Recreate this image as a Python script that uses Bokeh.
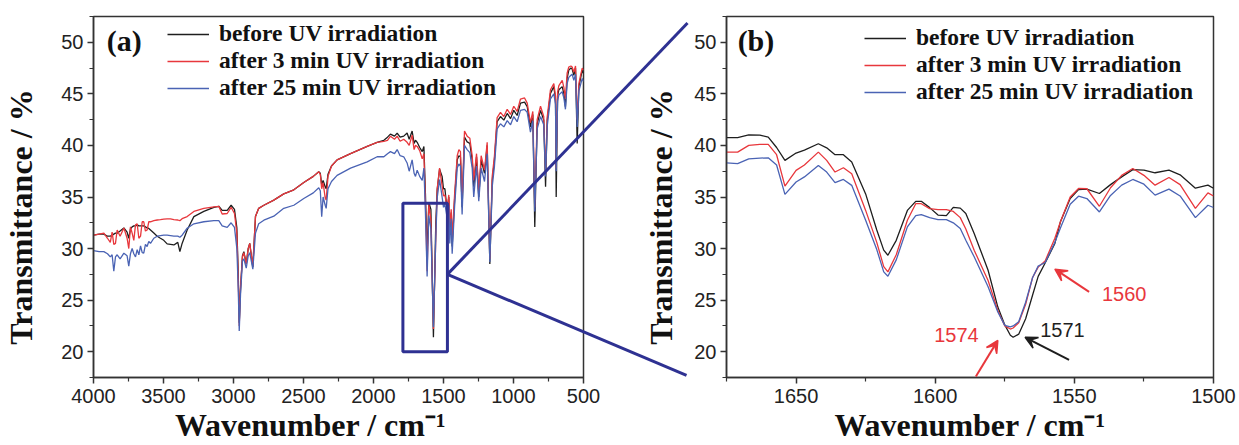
from bokeh.plotting import figure
from bokeh.layouts import row
from bokeh.models import Range1d, FixedTicker, Legend, LegendItem, Label, Arrow, VeeHead
from bokeh.embed import file_html
from bokeh.resources import INLINE

# ---------------- data ----------------
series_names = ["before UV irradiation", "after 3 min UV irradiation", "after 25 min UV irradiation"]

# panel (a): full spectrum
wn_a = [4000, 3960, 3926, 3900, 3880, 3867, 3855, 3843, 3831, 3810,
        3783, 3760, 3748, 3736, 3724, 3712, 3700, 3688, 3676, 3664,
        3652, 3641, 3629, 3617, 3605, 3593, 3569, 3545, 3522, 3498,
        3474, 3450, 3426, 3398, 3383, 3367, 3331, 3283, 3212, 3140,
        3105, 3081, 3045, 3017, 2993, 2976, 2966, 2959, 2950, 2936,
        2926, 2909, 2895, 2884, 2862, 2843, 2820, 2783, 2712, 2641,
        2569, 2498, 2430, 2391, 2380, 2370, 2360, 2345, 2338, 2325,
        2300, 2260, 2164, 2045, 1974, 1926, 1900, 1879, 1850, 1831,
        1810, 1784, 1760, 1745, 1724, 1710, 1700, 1688, 1670, 1652,
        1640, 1629, 1617, 1605, 1590, 1572, 1555, 1545, 1528, 1510,
        1500, 1490, 1474, 1462, 1455, 1445, 1438, 1421, 1402, 1390,
        1379, 1367, 1350, 1331, 1312, 1295, 1284, 1264, 1248, 1231,
        1207, 1188, 1169, 1152, 1136, 1117, 1093, 1069, 1045, 1021,
        998, 974, 950, 921, 902, 879, 862, 848, 831, 807,
        784, 771, 759, 736, 712, 700, 695, 685, 676, 652,
        640, 629, 617, 605, 590, 581, 569, 557, 545, 533,
        521, 509, 500]

before_a = [31.3, 31.4, 31.4, 31.2, 31.2, 31.3, 31.4, 31.5, 31.5, 31.7,
            32.0, 31.6, 31.0, 31.9, 32.1, 32.2, 32.2, 32.3, 32.2, 32.2,
            32.2, 32.2, 32.1, 32.0, 31.95, 31.8, 31.5, 31.2, 31.0, 30.8,
            30.45, 30.4, 30.35, 30.6, 29.7, 30.5, 31.8, 33.1, 33.6, 34.0,
            34.1, 33.7, 33.7, 34.2, 33.8, 32.0, 27.5, 22.8, 26.0, 29.3,
            29.7, 28.5, 30.0, 30.5, 28.2, 33.1, 33.9, 34.2, 34.7, 35.3,
            35.7, 36.4, 37.0, 37.45, 37.3, 36.2, 36.6, 36.0, 35.8, 37.2,
            38.0, 38.6, 39.2, 39.9, 40.3, 40.5, 40.8, 41.1, 40.9, 41.2,
            40.8, 40.9, 41.2, 40.6, 41.4, 40.2, 40.5, 40.3, 39.8, 39.4,
            39.9, 35.3, 29.4, 34.5, 33.8, 21.4, 32.5, 35.7, 37.7, 37.0,
            35.8, 35.8, 33.7, 35.0, 31.5, 33.5, 30.2, 34.7, 38.6, 39.0,
            38.9, 34.0, 40.8, 40.35, 40.2, 38.6, 36.0, 38.9, 35.0, 38.6,
            37.3, 40.0, 28.5, 36.6, 38.6, 42.3, 42.8, 42.45, 43.1, 42.6,
            43.4, 42.9, 44.1, 44.2, 43.75, 41.8, 43.0, 32.1, 42.1, 43.4,
            42.45, 36.0, 42.45, 45.05, 45.7, 44.5, 35.0, 44.8, 45.4, 45.7,
            45.0, 43.75, 46.5, 47.3, 47.5, 47.4, 46.8, 47.5, 40.2, 45.7,
            46.5, 47.3, 47.0]

after3_a = [31.3, 31.4, 31.5, 31.0, 30.6, 31.6, 30.4, 30.5, 31.8, 31.2,
            32.0, 31.0, 30.0, 32.1, 31.5, 30.8, 32.3, 32.4, 31.0, 31.2,
            32.6, 32.6, 31.7, 31.8, 32.6, 32.6, 32.7, 32.77, 32.8, 32.85,
            32.87, 32.87, 32.8, 32.77, 32.7, 32.9, 33.1, 33.6, 33.9, 34.05,
            34.1, 33.35, 33.4, 34.0, 33.4, 31.5, 27.0, 22.5, 26.3, 29.2,
            29.6, 28.5, 30.0, 30.5, 28.3, 33.1, 33.9, 34.2, 34.7, 35.3,
            35.7, 36.4, 37.0, 37.45, 37.2, 35.8, 36.4, 34.9, 34.7, 37.0,
            38.0, 38.6, 39.2, 39.9, 40.3, 40.4, 40.5, 40.9, 40.6, 40.9,
            40.4, 40.6, 40.3, 40.0, 41.0, 39.6, 40.0, 39.9, 39.5, 38.7,
            39.2, 34.5, 27.8, 34.3, 32.8, 22.2, 31.1, 35.8, 37.8, 36.1,
            35.1, 35.2, 33.9, 35.2, 32.0, 33.8, 31.0, 35.2, 39.0, 39.6,
            39.4, 34.6, 41.4, 40.9, 40.7, 39.0, 36.6, 39.2, 35.5, 39.0,
            37.6, 40.3, 29.0, 37.0, 39.0, 42.7, 43.2, 42.8, 43.5, 43.0,
            43.8, 43.3, 44.5, 44.6, 44.1, 42.2, 43.3, 34.0, 42.5, 43.8,
            42.8, 37.2, 42.8, 45.4, 46.0, 44.8, 37.8, 45.2, 45.8, 46.3,
            45.6, 44.5, 47.0, 47.6, 47.7, 47.6, 47.1, 47.7, 42.5, 46.0,
            46.8, 47.5, 47.3]

after25_a = [29.8, 29.7, 29.7, 29.5, 29.2, 29.4, 27.8, 29.2, 29.4, 29.0,
             29.55, 29.3, 28.3, 29.5, 30.0, 29.5, 29.2, 29.9, 29.4, 30.25,
             29.6, 29.55, 30.4, 30.2, 30.7, 30.5, 31.0, 31.2, 31.25, 31.3,
             31.3, 31.25, 31.2, 31.2, 31.1, 31.3, 31.97, 32.4, 32.6, 32.7,
             32.7, 32.2, 32.06, 32.5, 32.06, 30.0, 26.0, 22.0, 25.5, 28.8,
             29.0, 28.1, 29.3, 29.6, 28.0, 31.5, 32.4, 32.75, 33.14, 33.9,
             34.2, 34.85, 35.4, 35.9, 35.6, 33.1, 35.0, 34.2, 33.9, 35.8,
             36.5, 37.1, 37.8, 38.4, 38.9, 38.9, 39.2, 39.4, 39.2, 39.6,
             39.0, 38.9, 38.3, 37.5, 38.6, 37.3, 37.0, 37.6, 37.0, 36.6,
             37.8, 33.5, 27.3, 33.2, 31.9, 22.4, 31.1, 34.9, 36.7, 35.0,
             34.0, 34.3, 33.0, 34.2, 30.5, 32.9, 29.5, 34.0, 37.8, 38.2,
             38.0, 33.3, 40.0, 39.6, 39.3, 37.8, 35.0, 38.0, 34.6, 37.8,
             36.5, 39.2, 28.7, 36.0, 38.0, 41.6, 42.1, 41.8, 42.4, 42.0,
             42.8, 42.3, 43.4, 43.5, 43.2, 41.3, 42.4, 33.6, 41.6, 42.8,
             42.0, 37.0, 41.9, 44.5, 45.0, 44.0, 37.5, 44.3, 44.9, 45.2,
             44.6, 43.5, 46.0, 46.6, 46.8, 46.9, 46.3, 46.9, 41.8, 45.3,
             45.9, 46.5, 46.2]

# panel (b): enlarged 1675-1500 cm-1
wn_b = [1675, 1671, 1667, 1663, 1660, 1657, 1654, 1650, 1647, 1642,
        1639, 1636, 1633, 1630, 1625, 1621, 1618.5, 1617, 1614, 1610,
        1607, 1605, 1602, 1599, 1596, 1593.5, 1591, 1589, 1586, 1581,
        1577.5, 1575, 1573, 1572, 1570, 1567.5, 1565, 1563, 1560.5, 1557,
        1555, 1551.5, 1548.5, 1545.5, 1541, 1537, 1533, 1529, 1525, 1521,
        1516, 1512, 1506.5, 1502, 1500]

before_b = [40.75, 40.75, 41.03, 41.0, 40.8, 39.8, 38.55, 39.26, 39.55, 40.16,
            39.77, 39.1, 39.1, 38.4, 35.3, 31.8, 29.85, 29.35, 30.8, 33.7,
            34.58, 34.58, 33.97, 33.25, 33.2, 34.0, 33.92, 33.4, 31.46, 27.9,
            24.33, 22.6, 21.6, 21.4, 21.7, 23.2, 25.5, 27.3, 28.6, 30.5,
            32.6, 34.85, 35.72, 35.76, 35.34, 36.2, 36.95, 37.65, 37.6, 37.35,
            37.6, 37.15, 35.85, 36.15, 35.85]

after3_b = [39.35, 39.35, 40.0, 40.1, 40.1, 39.1, 36.05, 37.58, 38.1, 39.35,
            38.55, 37.42, 37.84, 37.26, 33.7, 30.6, 28.25, 27.74, 29.4, 32.74,
            34.35, 34.35, 33.87, 33.77, 33.77, 33.6, 33.0, 31.9, 29.84, 26.9,
            24.0, 22.5, 22.2, 22.3, 22.8, 24.6, 27.2, 28.2, 28.8, 31.0,
            32.6, 35.0, 35.83, 35.8, 34.1, 35.9, 37.1, 37.77, 37.1, 36.15,
            36.89, 36.2, 33.9, 35.4, 35.1]

after25_b = [38.3, 38.23, 38.7, 38.77, 38.8, 38.1, 35.26, 36.45, 36.95, 38.06,
             37.42, 36.39, 36.7, 36.13, 32.74, 29.9, 27.74, 27.32, 28.9, 32.1,
             33.2, 33.3, 33.0, 32.8, 32.8, 32.5, 31.94, 30.8, 29.2, 26.3,
             23.85, 22.55, 22.4, 22.5, 22.9, 24.8, 27.2, 28.3, 28.65, 30.6,
             32.0, 34.3, 35.08, 34.85, 33.55, 35.15, 36.15, 36.7, 36.24, 35.18,
             35.76, 35.1, 33.0, 34.2, 33.98]

# ticks
xticks_a = [4000, 3500, 3000, 2500, 2000, 1500, 1000, 500]
xminor_a = [3750, 3250, 2750, 2250, 1750, 1250, 750]
xticks_b = [1650, 1600, 1550, 1500]
xminor_b = [1675, 1625, 1575, 1525]
yticks = [20, 25, 30, 35, 40, 45, 50]
yminor = [17.5, 22.5, 27.5, 32.5, 37.5, 42.5, 47.5, 52.5]

# peak annotations in (b)
peak_labels = ["1574", "1571", "1560"]
peak_text_x = [1584.4, 1554.3, 1532.1]
peak_text_y = [21.6, 22.07, 25.6]
peak_align = ["right", "center", "center"]
peak_tail_x = [1585.4, 1551.9, 1544.7]
peak_tail_y = [17.6, 19.2, 25.8]
peak_head_x = [1577.5, 1567.7, 1557.0]
peak_head_y = [21.1, 21.4, 28.0]

# zoom box in (a) and zoom connector lines (in panel-(a) data units)
zoom_box = dict(left=1790, right=1472, bottom=20, top=34.4)
zoom_apex = (1472, 27.5)
zoom_ends = [(-243, 51.87), (-236, 17.7)]

# ---------------- styling / layout ----------------
BLACK = "#1e1e1e"
RED = "#e8373c"
BLUE = "#4a63b4"
NAVY = "#2e3192"
AX = "#333333"
COLORS = [BLACK, RED, BLUE]
peak_colors = [RED, BLACK, RED]

SERIF = "Liberation Serif"
SANS = "Liberation Sans"
NB = "\u00a0"
W, H = 1239, 445
WA = 640
WB = W - WA
FA_L, FA_R, FA_T, FA_B = 93, 583, 16, 378
FB_L, FB_R = 726, 1213
YR = (17.5, 52.5)


def make_fig(width, xr, xt, xm, mbl, mbr, ylab_standoff, xlabel_pad):
    p = figure(width=width, height=H, x_range=Range1d(*xr), y_range=Range1d(*YR),
               output_backend="svg", toolbar_location=None,
               min_border_left=mbl, min_border_right=mbr,
               min_border_top=FA_T, min_border_bottom=H - FA_B)
    p.xaxis.ticker = FixedTicker(ticks=xt, minor_ticks=xm)
    p.yaxis.ticker = FixedTicker(ticks=yticks, minor_ticks=yminor)
    p.xaxis.axis_label = "Wavenumber / cm\u207b\u00b9" + NB * xlabel_pad
    p.yaxis.axis_label = "Transmittance / %" + NB * 5
    for ax in (p.xaxis[0], p.yaxis[0]):
        ax.axis_line_color = AX
        ax.axis_line_width = 1.5
        ax.major_tick_line_color = AX
        ax.major_tick_line_width = 1.5
        ax.minor_tick_line_color = AX
        ax.minor_tick_line_width = 1.2
        ax.major_tick_out = 6
        ax.major_tick_in = 0
        ax.minor_tick_out = 4
        ax.minor_tick_in = 0
        ax.major_label_text_font = SANS
        ax.major_label_text_font_size = "20px"
        ax.major_label_text_color = "#222222"
        ax.major_label_standoff = 4
        ax.axis_label_text_font = SERIF
        ax.axis_label_text_font_style = "bold"
        ax.axis_label_text_font_size = "32px"
        ax.axis_label_text_color = "#111111"
    p.xaxis[0].major_label_standoff = 5
    p.xaxis[0].axis_label_standoff = 1
    p.yaxis[0].axis_label_standoff = ylab_standoff
    p.outline_line_color = AX
    p.outline_line_width = 1.5
    p.grid.visible = False
    p.background_fill_color = "white"
    p.border_fill_color = "white"
    return p


def add_lines(p, x, ys):
    return [p.line(x, y, line_color=c, line_width=1.3) for y, c in zip(ys, COLORS)]


def add_legend(p, rs, loc):
    leg = Legend(items=[LegendItem(label=n, renderers=[r]) for n, r in zip(series_names, rs)],
                 location=loc, background_fill_alpha=0, border_line_alpha=0,
                 padding=0, margin=0, spacing=0, glyph_width=42, glyph_height=20,
                 label_height=20, label_standoff=10,
                 label_text_font=SERIF, label_text_font_style="bold",
                 label_text_font_size="23.5px", label_text_color="#111111")
    p.add_layout(leg)


# panel (a)
pa = make_fig(WA, (4000, 500), xticks_a, xminor_a, FA_L, WA - FA_R, 19, 7)
ra = add_lines(pa, wn_a, [before_a, after3_a, after25_a])
add_legend(pa, ra, (74, 276))
pa.add_layout(Label(x=3905, y=50.2, text="(a)", text_font=SERIF, text_font_style="bold",
                    text_font_size="30px", text_baseline="middle", text_color="#111111"))
pa.quad(left=zoom_box["left"], right=zoom_box["right"], bottom=zoom_box["bottom"],
        top=zoom_box["top"], fill_alpha=0, line_color=NAVY, line_width=3)

# panel (b)
pb = make_fig(WB, (1675, 1500), xticks_b, xminor_b, FB_L - WA, W - FB_R, 12, 0)
rb = add_lines(pb, wn_b, [before_b, after3_b, after25_b])
add_legend(pb, rb, (138, 272))
pb.add_layout(Label(x=1671, y=50.2, text="(b)", text_font=SERIF, text_font_style="bold",
                    text_font_size="30px", text_baseline="middle", text_color="#111111"))
for i, t in enumerate(peak_labels):
    c = peak_colors[i]
    pb.add_layout(Label(x=peak_text_x[i], y=peak_text_y[i], text=t, text_align=peak_align[i],
                        text_baseline="middle", text_font=SANS, text_font_size="20px",
                        text_color=c))
    pb.add_layout(Arrow(end=VeeHead(size=12, fill_color=c, line_color=c, line_width=1.5),
                        x_start=peak_tail_x[i], y_start=peak_tail_y[i],
                        x_end=peak_head_x[i], y_end=peak_head_y[i],
                        line_color=c, line_width=2))

# transparent overlay carrying the zoom connector lines (shares panel-(a) data units;
# its frame is aligned with the frames of the two panels)
sx = (FA_R - FA_L) / (4000 - 500)
C0, C1 = 440, 700


def ax_x(px):
    return 4000 - (px - FA_L) / sx


pc = figure(width=C1 - C0, height=H, x_range=Range1d(ax_x(C0), ax_x(C1)),
            y_range=Range1d(*YR), x_axis_type=None, y_axis_type=None,
            output_backend="svg", toolbar_location=None,
            min_border_left=0, min_border_right=0,
            min_border_top=FA_T, min_border_bottom=H - FA_B,
            margin=(0, 0, 0, -(W - C0)))
pc.outline_line_color = None
pc.background_fill_alpha = 0
pc.border_fill_alpha = 0
pc.grid.visible = False
pc.segment(x0=[zoom_apex[0]] * len(zoom_ends), y0=[zoom_apex[1]] * len(zoom_ends),
           x1=[e[0] for e in zoom_ends], y1=[e[1] for e in zoom_ends],
           line_color=NAVY, line_width=3)

layout = row(pa, pb, pc)
open("out.html", "w").write(file_html(layout, INLINE))
